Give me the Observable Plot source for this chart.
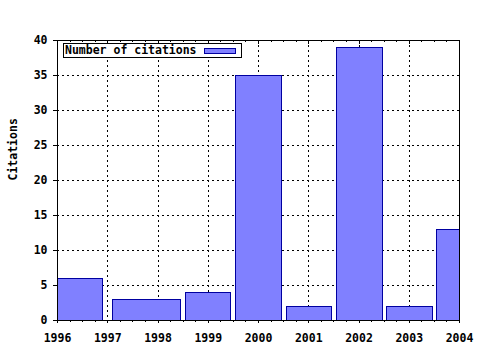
<!DOCTYPE html>
<html><head><meta charset="utf-8">
<script src="https://cdn.jsdelivr.net/npm/d3@7"></script>
<script src="https://cdn.jsdelivr.net/npm/@observablehq/plot@0.6"></script>
<style>
body{margin:0;background:#fff;}
#wrap{position:relative;width:480px;height:350px;font-family:"DejaVu Sans Mono",monospace;font-weight:bold;font-size:11.5px;color:#000;}
#legend{position:absolute;left:63px;top:43px;width:177px;height:13px;border:1px solid #000;background:#fff;}
#legend .lab{position:absolute;left:1px;top:-1px;line-height:15px;white-space:pre;}
#legend .sw{position:absolute;left:140px;top:4px;width:30px;height:4px;background:#8080ff;border:1px solid #0000a0;}
svg rect, svg line, svg path{shape-rendering:crispEdges;}
</style>
</head><body>
<div id="wrap"><div id="legend"><span class="lab">Number of citations</span><span class="sw"></span></div></div>
<script>
const yearTicks = [1996, 1997, 1998, 1999, 2000, 2001, 2002, 2003, 2004];
const yTicks = [0, 5, 10, 15, 20, 25, 30, 35, 40];
const barStart = [1996.0, 1997.10, 1998.55, 1999.55, 2000.56, 2001.56, 2002.56, 2003.55];
const barEnd   = [1996.91, 1998.46, 1999.46, 2000.47, 2001.47, 2002.47, 2003.47, 2004.46];
const citations = [6, 3, 4, 35, 2, 39, 2, 13];
const seriesName = "Number of citations";

const bars = citations.map((v, i) => ({x1: barStart[i], x2: barEnd[i], y: v}));
const minor = d3.range(1996, 2004, 0.25).filter(d => d % 1 !== 0);

const chart = Plot.plot({
  width: 480, height: 350,
  marginLeft: 57, marginRight: 21, marginTop: 40, marginBottom: 30,
  style: {fontFamily: "'DejaVu Sans Mono', monospace", fontSize: "11.5px", fontWeight: "bold", background: "#fff", color: "#000"},
  x: {domain: [1996, 2004], ticks: yearTicks, tickFormat: "d", tickSize: 3, tickPadding: 10, label: null},
  y: {domain: [0, 40], ticks: yTicks, tickSize: 4, tickPadding: 6, label: null},
  marks: [
    Plot.ruleX(yearTicks.slice(1, -1), {stroke: "#000", strokeDasharray: "2,3"}),
    Plot.ruleY(yTicks.slice(1, -1), {stroke: "#000", strokeDasharray: "2,3"}),
    Plot.rectY(bars, {x1: "x1", x2: "x2", y: "y", fill: "#8080ff", stroke: "#0000a0", clip: true}),
    Plot.tickX(minor, {x: d => d, insetTop: 280, insetBottom: -2, stroke: "#000"}),
    Plot.tickX(minor, {x: d => d, insetBottom: 278, stroke: "#000"}),
    Plot.tickX(yearTicks, {x: d => d, insetBottom: 276, stroke: "#000"}),
    Plot.frame({stroke: "#000"}),
    Plot.text(["Citations"], {frameAnchor: "left", dx: -44, rotate: -90, fill: "#000"})
  ]
});
document.getElementById("wrap").prepend(chart);
document.querySelector("#legend .lab").textContent = seriesName;
</script>
</body></html>
